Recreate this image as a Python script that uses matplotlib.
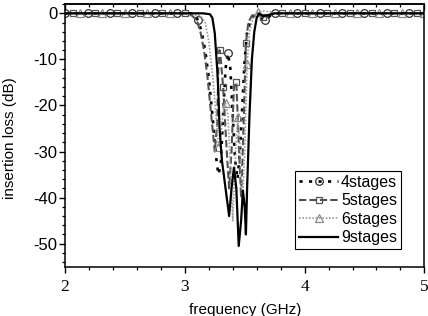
''' Band-stop insertion loss vs frequency for 4/5/6/9 stages '''

import matplotlib
matplotlib.use('Agg')
import matplotlib.pyplot as plt
from matplotlib.ticker import MultipleLocator

plt.rcParams['font.family'] = ['Liberation Sans', 'DejaVu Sans']
plt.rcParams['axes.unicode_minus'] = False

# flat pass band below and above the notch (all curves sit at 0 dB there)
f_lo = [2.0, 2.0625, 2.125, 2.1875, 2.25, 2.3125, 2.375, 2.4375, 2.5,
        2.5625, 2.625, 2.6875, 2.75, 2.8125, 2.875, 2.9375, 3.0]
db_lo = [0.0, 0.0, 0.0, 0.0, 0.0, 0.0, 0.0, 0.0, 0.0,
         0.0, 0.0, 0.0, 0.0, 0.0, 0.0, 0.0, 0.0]
f_hi = [3.75, 3.8125, 3.875, 3.9375, 4.0, 4.0625, 4.125, 4.1875, 4.25,
        4.3125, 4.375, 4.4375, 4.5, 4.5625, 4.625, 4.6875, 4.75, 4.8125,
        4.875, 4.9375, 5.0]
db_hi = [0.0, 0.0, 0.0, 0.0, 0.0, 0.0, 0.0, 0.0, 0.0,
         0.0, 0.0, 0.0, 0.0, 0.0, 0.0, 0.0, 0.0, 0.0,
         0.0, 0.0, 0.0]

# stop band
f4 = [3.05, 3.08, 3.11, 3.14, 3.17, 3.20, 3.23, 3.26, 3.28, 3.30, 3.32,
      3.34, 3.36, 3.38, 3.40, 3.42, 3.44, 3.46, 3.48, 3.50, 3.52, 3.55,
      3.58, 3.61, 3.64, 3.67, 3.71]
db4 = [0.0, -0.3, -1.5, -4.0, -8.0, -14.0, -22.0, -31.0, -35.0, -33.0, -22.0,
       -12.0, -8.7, -12.0, -22.0, -32.0, -36.0, -30.0, -20.0, -10.0, -4.0, -1.5,
       -0.5, -0.6, -1.2, -1.5, -0.6]
mk4 = [3.11, 3.36, 3.67]

f5 = [3.06, 3.10, 3.13, 3.16, 3.19, 3.22, 3.25, 3.27, 3.28, 3.29,
      3.30, 3.32, 3.35, 3.37, 3.39, 3.41, 3.43, 3.45, 3.47, 3.49, 3.51,
      3.53, 3.56, 3.60, 3.65, 3.70]
db5 = [-0.5, -1.5, -4.0, -8.0, -14.0, -22.0, -30.0, -24.0, -12.0, -8.0,
       -10.0, -16.0, -30.0, -38.0, -30.0, -16.0, -15.0, -28.0, -40.0, -25.0, -6.5,
       -2.0, -0.5, 0.0, -0.8, -0.3]
mk5 = [3.29, 3.32, 3.43, 3.51, 3.65]

f6 = [3.13, 3.17, 3.20, 3.23, 3.26, 3.28, 3.30, 3.32, 3.34, 3.36,
      3.38, 3.40, 3.42, 3.44, 3.46, 3.48, 3.50, 3.52, 3.54, 3.57, 3.61,
      3.66, 3.72]
db6 = [-0.5, -2.0, -6.0, -13.0, -22.0, -29.0, -27.0, -21.0, -19.5, -22.0,
       -33.0, -45.0, -32.0, -22.6, -28.0, -42.0, -30.0, -11.0, -4.0, -1.0, 0.3,
       0.5, 0.3]
mk6 = [3.28, 3.34, 3.44, 3.52, 3.61]

f9 = [3.15, 3.21, 3.23, 3.25, 3.27, 3.28, 3.29, 3.31, 3.34, 3.37,
      3.39, 3.41, 3.43, 3.45, 3.47, 3.485, 3.50, 3.51, 3.52, 3.54, 3.56,
      3.58, 3.60, 3.62, 3.65, 3.70]
db9 = [0.0, -0.2, -1.0, -4.3, -12.0, -17.0, -25.0, -32.0, -38.0, -44.0,
       -38.0, -33.5, -38.0, -50.5, -45.0, -38.5, -42.0, -48.0, -38.0, -22.0, -10.0,
       -4.0, -1.0, 0.0, -0.6, -0.4]

labels = ['4stages', '5stages', '6stages', '9stages']


def marks(freqs, extra, k):
    # every third pass-band point (offset k) plus the stop-band marker points
    idx = []
    for i, f in enumerate(freqs):
        if (f in f_lo and f_lo.index(f) % 3 == k) or \
           (f in f_hi and f_hi.index(f) % 3 == k) or f in extra:
            idx.append(i)
    return idx


fig = plt.figure(figsize=(4.28, 3.16), dpi=100)
ax = fig.add_axes([0.152, 0.156, 0.8395, 0.831])

x4, y4 = f_lo + f4 + f_hi, db_lo + db4 + db_hi
x5, y5 = f_lo + f5 + f_hi, db_lo + db5 + db_hi
x6, y6 = f_lo + f6 + f_hi, db_lo + db6 + db_hi
x9, y9 = f_lo + f9 + f_hi, db_lo + db9 + db_hi

ax.plot(x4, y4, color='black', linestyle=(0, (1.2, 2.4)), lw=1.9,
        marker='o', ms=5.5, mfc='none', mec='#303030', mew=0.9,
        markevery=marks(x4, mk4, 0), label=labels[0])
ax.plot(x5, y5, color='#505050', linestyle=(0, (3.5, 1.5)), lw=1.5,
        marker='s', ms=5, mfc='none', mec='#555555', mew=0.9,
        markevery=marks(x5, mk5, 1), label=labels[1])
ax.plot(x6, y6, color='#9a9a9a', linestyle=(0, (1, 1)), lw=1.2,
        marker='^', ms=5.5, mfc='none', mec='#8a8a8a', mew=0.9,
        markevery=marks(x6, mk6, 2), label=labels[2])
ax.plot(x9, y9, color='black', linestyle='-', lw=1.6, label=labels[3])

ax.set_xlim(2, 5)
ax.set_ylim(-55, 2)

ax.xaxis.set_major_locator(MultipleLocator(1))
ax.xaxis.set_minor_locator(MultipleLocator(0.2))
ax.yaxis.set_major_locator(MultipleLocator(10))
ax.yaxis.set_minor_locator(MultipleLocator(2))

for s in ax.spines.values():
    s.set_linewidth(1.1)

ax.tick_params(which='major', direction='out', length=4.5, width=1.0)
ax.tick_params(which='minor', direction='out', length=2.5, width=0.9)
ax.tick_params(axis='y', labelsize=12, pad=1)
ax.tick_params(axis='x', labelsize=12.5, pad=4)
for t in ax.get_xticklabels():
    t.set_fontfamily('Liberation Serif')

# inward ticks on the top edge
top = ax.secondary_xaxis('top')
top.xaxis.set_major_locator(MultipleLocator(1))
top.xaxis.set_minor_locator(MultipleLocator(0.2))
top.tick_params(which='major', direction='in', length=4.5, width=1.0, labeltop=False)
top.tick_params(which='minor', direction='in', length=2.5, width=0.9)
top.spines['top'].set_linewidth(1.1)

ax.set_xlabel('frequency (GHz)', fontsize=11)
ax.xaxis.set_label_coords(0.5, -0.14)
ax.set_ylabel('insertion loss (dB)', fontsize=11)
ax.yaxis.set_label_coords(-0.133, 0.49)

leg = ax.legend(loc='lower right', bbox_to_anchor=(0.935, 0.066),
                fontsize=11.5, handlelength=2.5, handletextpad=0.15,
                labelspacing=0.22, borderpad=0.25, borderaxespad=0,
                numpoints=1, fancybox=False, framealpha=1,
                edgecolor='black')
leg.get_frame().set_linewidth(0.8)

fig.savefig('out.png', dpi=100)
